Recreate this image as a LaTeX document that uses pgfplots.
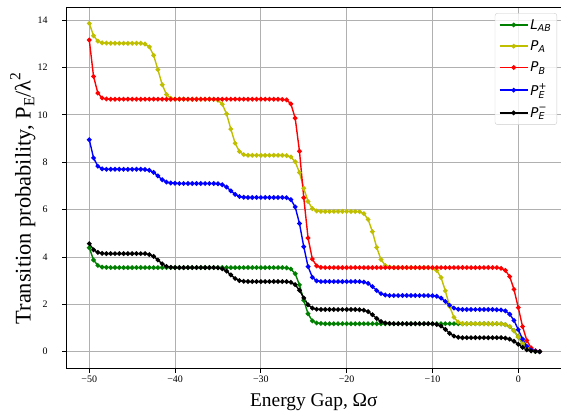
\documentclass[border=0pt]{standalone}
\usepackage{fontspec}
\setmainfont{Liberation Serif}
\newfontfamily\legfont{DejaVu Sans}
\usepackage{pgfplots}
\usepackage{pgfplotstable}
\pgfplotsset{compat=1.18}
\definecolor{mgreen}{rgb}{0,0.5,0}
\definecolor{myellow}{rgb}{0.75,0.75,0}
\definecolor{gridc}{RGB}{176,176,176}
\definecolor{legc}{RGB}{204,204,204}
\newcommand{\lsub}[1]{\raisebox{-0.35ex}{\fontsize{9.5}{10}\selectfont #1}}
\newcommand{\lsup}[1]{\raisebox{0.9ex}{\fontsize{9.5}{10}\selectfont #1}}
\newcommand{\lboth}[2]{\makebox[0pt][l]{\lsup{#1}}\lsub{#2}}
\newcommand{\ysub}[1]{\raisebox{-0.35ex}{\fontsize{15.5}{16}\selectfont #1}}
\newcommand{\ysup}[1]{\raisebox{1.0ex}{\fontsize{15.5}{16}\selectfont #1}}

\pgfplotstableread{
x L A B Ep Em
-50 4.39 13.86 13.16 8.95 4.56
-49.5 3.87 13.34 11.62 8.18 4.30
-49 3.64 13.11 10.92 7.83 4.19
-48.5 3.57 13.04 10.71 7.72 4.15
-48 3.56 13.03 10.67 7.70 4.14
-47.5 3.55 13.02 10.66 7.70 4.14
-47 3.55 13.02 10.66 7.70 4.14
-46.5 3.55 13.02 10.66 7.70 4.14
-46 3.55 13.02 10.66 7.70 4.14
-45.5 3.55 13.02 10.66 7.70 4.14
-45 3.55 13.02 10.66 7.70 4.14
-44.5 3.55 13.02 10.66 7.70 4.14
-44 3.55 13.02 10.66 7.70 4.14
-43.5 3.55 12.99 10.66 7.69 4.14
-43 3.55 12.87 10.66 7.66 4.10
-42.5 3.55 12.51 10.66 7.57 4.02
-42 3.55 11.91 10.66 7.42 3.87
-41.5 3.55 11.27 10.66 7.26 3.71
-41 3.55 10.86 10.66 7.16 3.60
-40.5 3.55 10.70 10.66 7.12 3.56
-40 3.55 10.66 10.66 7.11 3.55
-39.5 3.55 10.66 10.66 7.10 3.55
-39 3.55 10.66 10.66 7.10 3.55
-38.5 3.55 10.66 10.66 7.10 3.55
-38 3.55 10.66 10.66 7.10 3.55
-37.5 3.55 10.66 10.66 7.10 3.55
-37 3.55 10.66 10.66 7.10 3.55
-36.5 3.55 10.66 10.66 7.10 3.55
-36 3.55 10.66 10.66 7.10 3.55
-35.5 3.55 10.65 10.66 7.10 3.55
-35 3.55 10.61 10.66 7.09 3.54
-34.5 3.55 10.45 10.66 7.05 3.50
-34 3.55 10.04 10.66 6.95 3.40
-33.5 3.55 9.40 10.66 6.79 3.24
-33 3.55 8.80 10.66 6.64 3.09
-32.5 3.55 8.45 10.66 6.55 3.00
-32 3.55 8.32 10.66 6.52 2.97
-31.5 3.55 8.29 10.66 6.51 2.96
-31 3.55 8.29 10.66 6.51 2.96
-30.5 3.55 8.29 10.66 6.51 2.96
-30 3.55 8.29 10.66 6.51 2.96
-29.5 3.55 8.29 10.66 6.51 2.96
-29 3.55 8.29 10.66 6.51 2.96
-28.5 3.55 8.29 10.66 6.51 2.96
-28 3.55 8.29 10.66 6.51 2.96
-27.5 3.55 8.29 10.65 6.51 2.96
-27 3.54 8.28 10.63 6.50 2.96
-26.5 3.49 8.22 10.46 6.42 2.93
-26 3.29 8.02 9.86 6.11 2.83
-25.5 2.82 7.56 8.46 5.41 2.59
-25 2.17 6.90 6.50 4.43 2.27
-24.5 1.60 6.34 4.80 3.59 1.98
-24 1.30 6.04 3.91 3.14 1.84
-23.5 1.21 5.94 3.62 2.99 1.79
-23 1.19 5.92 3.56 2.96 1.78
-22.5 1.18 5.92 3.55 2.96 1.78
-22 1.18 5.92 3.55 2.96 1.78
-21.5 1.18 5.92 3.55 2.96 1.78
-21 1.18 5.92 3.55 2.96 1.78
-20.5 1.18 5.92 3.55 2.96 1.78
-20 1.18 5.92 3.55 2.96 1.78
-19.5 1.18 5.92 3.55 2.96 1.78
-19 1.18 5.92 3.55 2.96 1.78
-18.5 1.18 5.91 3.55 2.96 1.77
-18 1.18 5.83 3.55 2.94 1.75
-17.5 1.18 5.58 3.55 2.88 1.69
-17 1.18 5.07 3.55 2.75 1.56
-16.5 1.18 4.40 3.55 2.58 1.40
-16 1.18 3.89 3.55 2.45 1.27
-15.5 1.18 3.64 3.55 2.39 1.21
-15 1.18 3.57 3.55 2.37 1.19
-14.5 1.18 3.55 3.55 2.37 1.18
-14 1.18 3.55 3.55 2.37 1.18
-13.5 1.18 3.55 3.55 2.37 1.18
-13 1.18 3.55 3.55 2.37 1.18
-12.5 1.18 3.55 3.55 2.37 1.18
-12 1.18 3.55 3.55 2.37 1.18
-11.5 1.18 3.55 3.55 2.37 1.18
-11 1.18 3.55 3.55 2.37 1.18
-10.5 1.18 3.55 3.55 2.37 1.18
-10 1.18 3.53 3.55 2.36 1.18
-9.5 1.18 3.43 3.55 2.34 1.15
-9 1.18 3.13 3.55 2.26 1.08
-8.5 1.18 2.57 3.55 2.12 0.94
-8 1.18 1.91 3.55 1.96 0.77
-7.5 1.18 1.45 3.55 1.84 0.66
-7 1.18 1.25 3.55 1.79 0.61
-6.5 1.18 1.19 3.55 1.78 0.59
-6 1.18 1.18 3.55 1.78 0.59
-5.5 1.18 1.18 3.55 1.78 0.59
-5 1.18 1.18 3.55 1.78 0.59
-4.5 1.18 1.18 3.55 1.78 0.59
-4 1.18 1.18 3.55 1.78 0.59
-3.5 1.18 1.18 3.55 1.78 0.59
-3 1.18 1.18 3.55 1.78 0.59
-2.5 1.18 1.18 3.55 1.77 0.59
-2 1.17 1.17 3.52 1.76 0.59
-1.5 1.14 1.14 3.43 1.72 0.57
-1 1.06 1.06 3.17 1.58 0.53
-0.5 0.88 0.88 2.63 1.32 0.44
0 0.62 0.62 1.86 0.93 0.31
0.5 0.35 0.35 1.06 0.53 0.18
1 0.16 0.16 0.47 0.23 0.08
1.5 0.05 0.05 0.16 0.08 0.03
2 0.01 0.01 0.04 0.02 0.01
2.5 0.00 0.00 0.01 0.00 0.00
}\data

\begin{document}
\begin{tikzpicture}
\useasboundingbox (0,0) rectangle (561bp,416bp);
\begin{axis}[
  at={(66.7bp,48bp)}, anchor=south west,
  scale only axis, width=494.3bp, height=360.7bp,
  xmin=-52.63, xmax=4.98, ymin=-0.69, ymax=14.54,
  xtick={-50,-40,-30,-20,-10,0},
  xticklabels={−50,−40,−30,−20,−10,0},
  ytick={0,2,4,6,8,10,12,14},
  yticklabels={0,2,4,6,8,10,12,14},
  tick label style={font=\fontsize{10}{12}\selectfont},
  yticklabel style={xshift=-11bp},
  tick align=outside, tick pos=left,
  major tick length=4.5bp,
  every tick/.style={black, line width=0.8bp},
  axis line style={line width=0.8bp},
  grid=major, major grid style={gridc, line width=0.8bp},
  xlabel={Energy Gap, Ωσ},
  ylabel={Transition probability, P\ysub{E}/λ\ysup{2}},
  xlabel style={at={(axis description cs:0.5,-0.071)}, anchor=north, inner sep=0pt, font=\fontsize{19.5}{22}\selectfont},
  ylabel style={at={(axis description cs:-0.0627,0.47)}, anchor=south, inner sep=0pt, font=\fontsize{22.5}{25}\selectfont},
  legend style={at={(axis description cs:0.992,0.984)}, anchor=north east,
    draw=legc, rounded corners=2.5bp, fill=white, fill opacity=0.8, text opacity=1, draw opacity=1,
    font=\legfont\fontsize{13.5}{15}\selectfont, inner xsep=4bp, inner ysep=4bp,
    row sep=6bp},
  legend cell align=left,
  legend image code/.code={\draw[mark repeat=2,mark phase=2,#1] plot coordinates {(0bp,0bp)(14bp,0bp)(28bp,0bp)};},
  every axis plot/.append style={line width=1.4bp, mark=*, mark size=1.6bp, mark options={solid}},
]
\addplot[color=mgreen] table[x=x,y=L]{\data};
\addlegendentry{\itshape L\lsub{AB}}
\addplot[color=myellow] table[x=x,y=A]{\data};
\addlegendentry{\itshape P\lsub{A}}
\addplot[color=red] table[x=x,y=B]{\data};
\addlegendentry{\itshape P\lsub{B}}
\addplot[color=blue] table[x=x,y=Ep]{\data};
\addlegendentry{\itshape P\lboth{\upshape +}{E}}
\addplot[color=black] table[x=x,y=Em]{\data};
\addlegendentry{\itshape P\lboth{\upshape −}{E}}
\end{axis}
\end{tikzpicture}
\end{document}
